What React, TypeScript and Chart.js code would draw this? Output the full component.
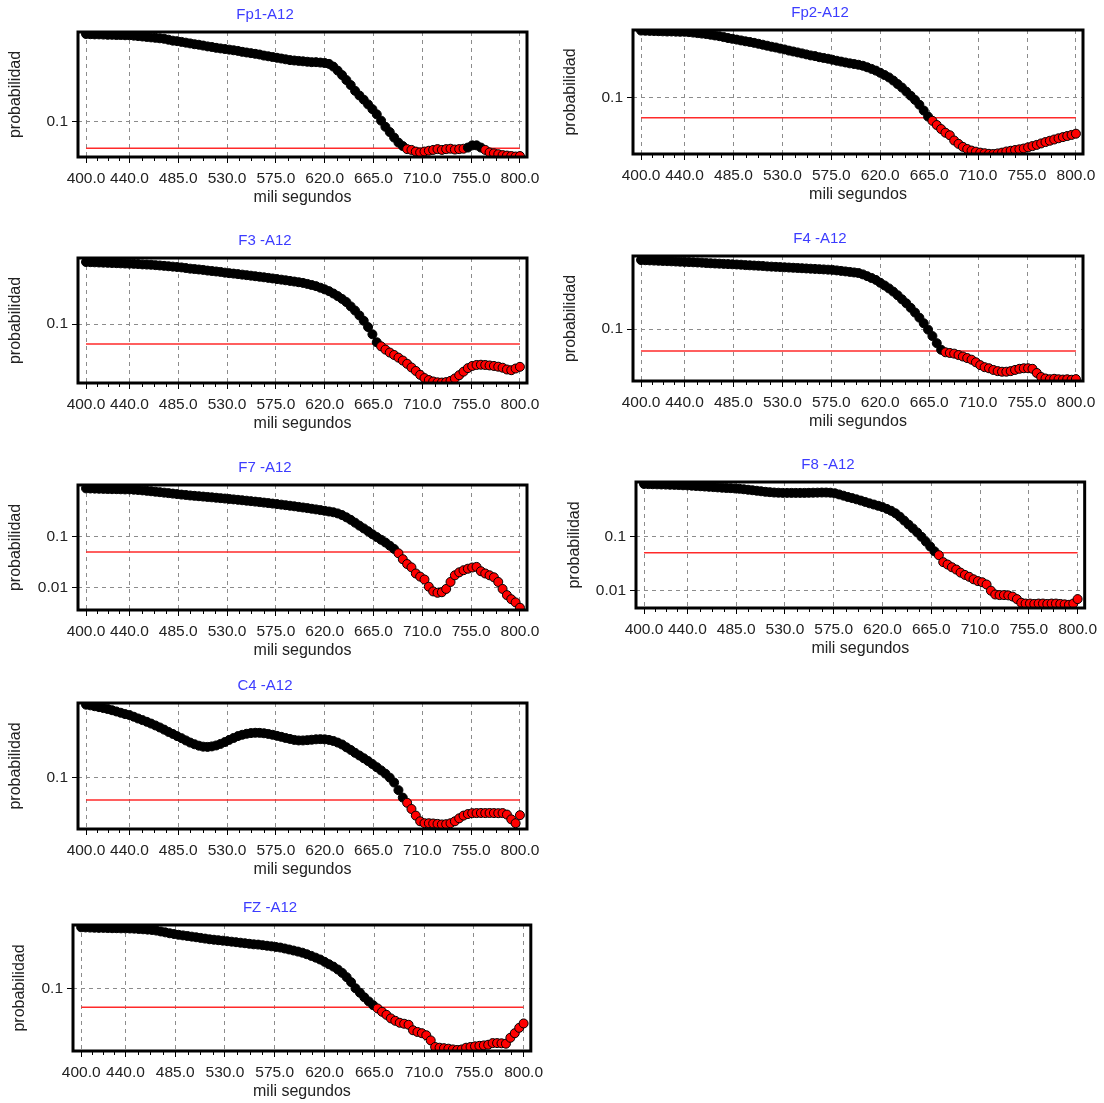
import React, { useEffect, useRef } from "react";
import { Chart, registerables } from "chart.js";

Chart.register(...registerables);

// Sample times (ms) shared by every channel
const TIME_MS = [
  400, 404, 408, 412, 416, 420, 424, 428, 432, 436,
  440, 444, 448, 452, 456, 460, 464, 468, 472, 476,
  480, 484, 488, 492, 496, 500, 504, 508, 512, 516,
  520, 524, 528, 532, 536, 540, 544, 548, 552, 556,
  560, 564, 568, 572, 576, 580, 584, 588, 592, 596,
  600, 604, 608, 612, 616, 620, 624, 628, 632, 636,
  640, 644, 648, 652, 656, 660, 664, 668, 672, 676,
  680, 684, 688, 692, 696, 700, 704, 708, 712, 716,
  720, 724, 728, 732, 736, 740, 744, 748, 752, 756,
  760, 764, 768, 772, 776, 780, 784, 788, 792, 796,
  800,
];

// Probability per channel at each sample time
const FP1 = [
  0.95, 0.945, 0.94, 0.94, 0.935, 0.93, 0.93, 0.925, 0.925, 0.92,
  0.92, 0.91, 0.9, 0.89, 0.88, 0.87, 0.86, 0.85, 0.84, 0.82,
  0.8, 0.79, 0.775, 0.76, 0.745, 0.73, 0.72, 0.705, 0.69, 0.68,
  0.665, 0.655, 0.645, 0.635, 0.625, 0.615, 0.6, 0.59, 0.58, 0.57,
  0.56, 0.545, 0.535, 0.525, 0.515, 0.505, 0.495, 0.485, 0.48, 0.475,
  0.47, 0.465, 0.46, 0.46, 0.455, 0.45, 0.44, 0.41, 0.37, 0.33,
  0.29, 0.255, 0.22, 0.195, 0.175, 0.155, 0.137, 0.12, 0.102, 0.087,
  0.076, 0.066, 0.058, 0.053, 0.049, 0.048, 0.046, 0.045, 0.046, 0.047,
  0.048, 0.049, 0.048, 0.049, 0.0495, 0.0485, 0.049, 0.0495, 0.051, 0.054,
  0.054, 0.051, 0.048, 0.045, 0.044, 0.043, 0.042, 0.0415, 0.041, 0.0405,
  0.041,
];

const FP2 = [
  0.98, 0.975, 0.97, 0.965, 0.96, 0.955, 0.95, 0.95, 0.945, 0.94,
  0.94, 0.93, 0.915, 0.9, 0.885, 0.87, 0.85, 0.83, 0.81, 0.785,
  0.76, 0.74, 0.72, 0.7, 0.68, 0.665, 0.645, 0.625, 0.605, 0.585,
  0.565, 0.55, 0.53, 0.515, 0.495, 0.48, 0.465, 0.45, 0.435, 0.42,
  0.41, 0.395, 0.385, 0.375, 0.362, 0.35, 0.34, 0.33, 0.32, 0.313,
  0.305, 0.295, 0.28, 0.265, 0.25, 0.232, 0.215, 0.198, 0.178, 0.158,
  0.14, 0.122, 0.106, 0.092, 0.078, 0.064, 0.052, 0.045, 0.039, 0.034,
  0.03, 0.0275, 0.023, 0.0205, 0.0185, 0.0172, 0.0163, 0.0157, 0.0152, 0.0149,
  0.0146, 0.0145, 0.0148, 0.0152, 0.0158, 0.0162, 0.0166, 0.017, 0.0175, 0.0182,
  0.019, 0.0198, 0.0208, 0.0218, 0.0228, 0.0238, 0.0248, 0.0258, 0.0268, 0.0278,
  0.029,
];

const F3 = [
  0.87, 0.865, 0.86, 0.855, 0.85, 0.845, 0.84, 0.835, 0.83, 0.825,
  0.82, 0.815, 0.81, 0.8, 0.795, 0.79, 0.78, 0.77, 0.76, 0.75,
  0.74, 0.73, 0.72, 0.705, 0.69, 0.68, 0.67, 0.66, 0.645, 0.635,
  0.625, 0.615, 0.6, 0.59, 0.58, 0.57, 0.56, 0.55, 0.54, 0.53,
  0.52, 0.51, 0.5, 0.49, 0.48, 0.47, 0.46, 0.45, 0.44, 0.43,
  0.42, 0.405, 0.39, 0.375, 0.355, 0.335, 0.315, 0.29, 0.265, 0.24,
  0.215, 0.185, 0.16, 0.135, 0.112, 0.09, 0.07, 0.053, 0.046, 0.041,
  0.037, 0.034, 0.031, 0.028, 0.025, 0.022, 0.0195, 0.017, 0.0152, 0.0142,
  0.0135, 0.0131, 0.013, 0.0132, 0.0138, 0.015, 0.0168, 0.019, 0.0215, 0.0232,
  0.024, 0.0242, 0.024, 0.0236, 0.0232, 0.0226, 0.0218, 0.0205, 0.02, 0.0212,
  0.0225,
];

const F4 = [
  0.88, 0.875, 0.87, 0.865, 0.86, 0.855, 0.85, 0.845, 0.84, 0.835,
  0.83, 0.825, 0.82, 0.815, 0.81, 0.8, 0.795, 0.79, 0.785, 0.78,
  0.775, 0.77, 0.765, 0.76, 0.75, 0.745, 0.74, 0.735, 0.73, 0.72,
  0.715, 0.71, 0.705, 0.7, 0.695, 0.69, 0.685, 0.68, 0.675, 0.67,
  0.665, 0.66, 0.655, 0.65, 0.645, 0.635, 0.625, 0.615, 0.605, 0.595,
  0.585, 0.56, 0.53, 0.5, 0.47, 0.43, 0.395, 0.36, 0.325, 0.29,
  0.255, 0.225, 0.195, 0.168, 0.143, 0.12, 0.098, 0.08, 0.064, 0.052,
  0.048, 0.047, 0.046, 0.044, 0.042, 0.04, 0.038, 0.035, 0.032, 0.03,
  0.029, 0.0275, 0.0265, 0.026, 0.026, 0.0265, 0.0275, 0.0285, 0.029, 0.029,
  0.0285, 0.025, 0.022, 0.021, 0.0205, 0.0208, 0.0205, 0.0203, 0.0205, 0.0202,
  0.0206,
];

const F7 = [
  0.86, 0.855, 0.85, 0.845, 0.84, 0.835, 0.83, 0.83, 0.825, 0.82,
  0.82, 0.81, 0.8, 0.785, 0.77, 0.755, 0.74, 0.725, 0.71, 0.695,
  0.68, 0.665, 0.65, 0.64, 0.625, 0.615, 0.605, 0.595, 0.585, 0.575,
  0.565, 0.555, 0.545, 0.535, 0.525, 0.515, 0.505, 0.495, 0.485, 0.475,
  0.465, 0.455, 0.445, 0.435, 0.425, 0.415, 0.405, 0.395, 0.385, 0.375,
  0.365, 0.355, 0.345, 0.335, 0.325, 0.315, 0.305, 0.295, 0.28, 0.26,
  0.235, 0.21, 0.185, 0.162, 0.143, 0.126, 0.11, 0.097, 0.086, 0.076,
  0.066, 0.057, 0.047, 0.036, 0.029, 0.025, 0.019, 0.0165, 0.0145, 0.0105,
  0.0085, 0.008, 0.0082, 0.0095, 0.013, 0.0175, 0.02, 0.022, 0.0235, 0.0248,
  0.0255, 0.021, 0.019, 0.0175, 0.016, 0.013, 0.0095, 0.0072, 0.006, 0.0052,
  0.0041,
];

const F8 = [
  0.92, 0.915, 0.91, 0.905, 0.9, 0.895, 0.89, 0.885, 0.88, 0.87,
  0.865, 0.855, 0.845, 0.835, 0.825, 0.815, 0.805, 0.795, 0.785, 0.775,
  0.77, 0.76, 0.75, 0.735, 0.72, 0.705, 0.69, 0.675, 0.66, 0.65,
  0.64, 0.635, 0.63, 0.63, 0.63, 0.63, 0.63, 0.63, 0.632, 0.635,
  0.637, 0.64, 0.64, 0.635, 0.62, 0.59, 0.56, 0.53, 0.505, 0.48,
  0.455, 0.43, 0.405, 0.385, 0.365, 0.345, 0.32, 0.295, 0.265, 0.23,
  0.195, 0.165, 0.14, 0.118, 0.098, 0.08, 0.065, 0.053, 0.045, 0.0335,
  0.0303, 0.027, 0.0245, 0.0215, 0.0195, 0.018, 0.0162, 0.015, 0.0143, 0.013,
  0.01, 0.0085, 0.0083, 0.0083, 0.0082, 0.0078, 0.007, 0.006, 0.0058, 0.0058,
  0.0057, 0.0058, 0.0058, 0.0057, 0.0058, 0.0058, 0.0057, 0.0056, 0.0055, 0.0058,
  0.007,
];

const C4 = [
  0.95, 0.93, 0.905, 0.88, 0.855, 0.83, 0.8, 0.77, 0.74, 0.71,
  0.69, 0.655, 0.62, 0.59, 0.56, 0.53, 0.5, 0.47, 0.44, 0.41,
  0.385, 0.36, 0.338, 0.315, 0.295, 0.28, 0.268, 0.26, 0.258, 0.262,
  0.27, 0.283, 0.3, 0.32, 0.34, 0.36, 0.375, 0.387, 0.395, 0.399,
  0.398, 0.393, 0.385, 0.375, 0.363, 0.352, 0.34, 0.33, 0.32, 0.315,
  0.315, 0.318, 0.322, 0.326, 0.328, 0.326, 0.32, 0.31, 0.295, 0.278,
  0.255, 0.235, 0.215, 0.198, 0.182, 0.167, 0.152, 0.138, 0.125, 0.113,
  0.1, 0.086, 0.068, 0.054, 0.046, 0.038, 0.031, 0.026, 0.0245, 0.0245,
  0.0243, 0.024, 0.0236, 0.0238, 0.0245, 0.026, 0.0285, 0.031, 0.0325, 0.0334,
  0.0335, 0.0336, 0.0335, 0.0336, 0.0335, 0.0334, 0.0335, 0.032, 0.0276, 0.0245,
  0.0314,
];

const FZ = [
  0.92, 0.915, 0.91, 0.905, 0.9, 0.9, 0.895, 0.89, 0.89, 0.885,
  0.885, 0.88, 0.875, 0.865, 0.855, 0.845, 0.835, 0.815, 0.79, 0.765,
  0.74, 0.72, 0.7, 0.685, 0.67, 0.655, 0.64, 0.625, 0.61, 0.595,
  0.585, 0.575, 0.565, 0.555, 0.545, 0.535, 0.525, 0.515, 0.505, 0.495,
  0.49, 0.48, 0.47, 0.46, 0.45, 0.44, 0.425, 0.41, 0.395, 0.38,
  0.365, 0.345, 0.325, 0.305, 0.285, 0.262, 0.24, 0.22, 0.198, 0.175,
  0.15, 0.125, 0.1, 0.085, 0.072, 0.062, 0.054, 0.048, 0.0425, 0.038,
  0.0334, 0.0306, 0.0285, 0.0275, 0.0265, 0.0217, 0.0204, 0.0195, 0.0181, 0.015,
  0.0118, 0.0115, 0.0113, 0.0111, 0.0108, 0.0106, 0.0108, 0.0115, 0.0118, 0.0121,
  0.0123, 0.0125, 0.0128, 0.0136, 0.0136, 0.0135, 0.0133, 0.0165, 0.0195, 0.0237,
  0.0278,
];

const SERIES = [FP1, FP2, F3, F4, F7, F8, C4, FZ];
const TITLES = ["Fp1-A12", "Fp2-A12", "F3 -A12", "F4 -A12", "F7 -A12", "F8 -A12", "C4 -A12", "FZ -A12"];
const Y_MIN = [0.04, 0.0145, 0.0128, 0.0194, 0.0037, 0.0048, 0.0205, 0.0102];
const Y_MAX = 1;
const X_TICKS = [400, 440, 485, 530, 575, 620, 665, 710, 755, 800];
const THRESHOLD = 0.05;

// Plot-frame rectangles on the page (left, top, right, bottom) and title anchors
const FRAMES = [
  { l: 78, t: 32, r: 527, b: 157, titleX: 265, yTitleX: 16 },
  { l: 633, t: 30, r: 1083, b: 154, titleX: 820, yTitleX: 571 },
  { l: 78, t: 258, r: 527, b: 383, titleX: 265, yTitleX: 16 },
  { l: 633, t: 256, r: 1083, b: 381, titleX: 820, yTitleX: 571 },
  { l: 78, t: 485, r: 527, b: 610, titleX: 265, yTitleX: 16 },
  { l: 636, t: 482, r: 1086, b: 608, titleX: 828, yTitleX: 575 },
  { l: 78, t: 703, r: 527, b: 829, titleX: 265, yTitleX: 16 },
  { l: 73, t: 925, r: 532, b: 1051, titleX: 270, yTitleX: 20 },
];

const FONT = "'Liberation Sans', Arial, sans-serif";
const TEXT = "#222222";
const TITLE_BLUE = "#3c3cff";
const GRID = "#8c8c8c";
const TICK_SIZE = 15.5;
const LABEL_SIZE = 16;
const PAD_TOP = 30;
const X_AXIS_H = 52;
const PAD_BOTTOM = 3;

function Panel({ index }: { index: number }) {
  const ref = useRef<HTMLCanvasElement | null>(null);
  const f = FRAMES[index];
  const left = f.l < 300 ? 0 : 555;
  const width = f.l < 300 ? 550 : 549;
  const top = f.t - PAD_TOP;
  const height = f.b - f.t + PAD_TOP + X_AXIS_H + PAD_BOTTOM;

  useEffect(() => {
    const canvas = ref.current;
    if (!canvas) return;
    const values = SERIES[index];
    const yMin = Y_MIN[index];
    const tickHalf = (TICK_SIZE * 1.2) / 2;
    const labelHalf = (LABEL_SIZE * 1.2) / 2;

    const framePlugin = {
      id: "frame",
      afterDraw(chart: any) {
        const { ctx, chartArea } = chart;
        const xs = chart.scales.x;
        ctx.save();
        // minor tick marks between labelled ticks
        ctx.strokeStyle = "#000";
        ctx.lineWidth = 1;
        ctx.beginPath();
        for (let i = 0; i < X_TICKS.length - 1; i++) {
          const a = X_TICKS[i];
          const b = X_TICKS[i + 1];
          for (let k = 1; k <= 3; k++) {
            const px = Math.round(xs.getPixelForValue(a + ((b - a) * k) / 4)) + 0.5;
            ctx.moveTo(px, chartArea.bottom);
            ctx.lineTo(px, chartArea.bottom + 4);
          }
        }
        ctx.stroke();
        // heavy plot frame
        ctx.lineWidth = 3;
        ctx.strokeRect(
          chartArea.left,
          chartArea.top,
          chartArea.right - chartArea.left,
          chartArea.bottom - chartArea.top
        );
        // panel title
        ctx.fillStyle = TITLE_BLUE;
        ctx.font = `15px ${FONT}`;
        ctx.textAlign = "center";
        ctx.textBaseline = "middle";
        ctx.fillText(TITLES[index], f.titleX - left, PAD_TOP - 17);
        ctx.restore();
      },
    };

    const chart = new Chart(canvas, {
      type: "scatter",
      data: {
        datasets: [
          {
            data: TIME_MS.map((t, i) => ({ x: t, y: values[i] })),
            showLine: false,
            pointRadius: 4.5,
            pointHoverRadius: 4.5,
            pointBorderWidth: 1,
            pointBorderColor: "#000",
            pointBackgroundColor: (c: any) =>
              c.raw && c.raw.y < THRESHOLD ? "#ff0000" : "#000000",
            order: 0,
          },
          {
            data: [
              { x: X_TICKS[0], y: THRESHOLD },
              { x: X_TICKS[X_TICKS.length - 1], y: THRESHOLD },
            ],
            showLine: true,
            borderColor: "#ff2a2a",
            borderWidth: 1.5,
            pointRadius: 0,
            order: 1,
          },
        ],
      },
      options: {
        animation: false,
        responsive: false,
        events: [],
        devicePixelRatio: 1,
        layout: {
          padding: {
            left: 0,
            top: PAD_TOP,
            right: width - (f.r - left),
            bottom: PAD_BOTTOM,
          },
        },
        plugins: {
          legend: { display: false },
          tooltip: { enabled: false },
          title: { display: false },
        },
        scales: {
          x: {
            type: "linear",
            min: 392.6,
            max: 806.5,
            afterBuildTicks: (s: any) => {
              s.ticks = X_TICKS.map((v) => ({ value: v }));
            },
            afterFit: (s: any) => {
              s.height = X_AXIS_H;
            },
            ticks: {
              autoSkip: false,
              maxRotation: 0,
              minRotation: 0,
              padding: 22 - 6 - tickHalf,
              color: TEXT,
              font: { family: FONT, size: TICK_SIZE },
              callback: (v: any) => Number(v).toFixed(1),
            },
            grid: {
              color: GRID,
              lineWidth: 1,
              drawTicks: true,
              tickLength: 6,
              tickColor: "#000",
              tickWidth: 1,
              tickBorderDash: [],
            },
            border: { display: false, dash: [4, 4] },
            title: {
              display: true,
              text: "mili segundos",
              color: TEXT,
              font: { family: FONT, size: LABEL_SIZE },
              padding: { top: 0, bottom: X_AXIS_H - 41 - labelHalf },
            },
          },
          y: {
            type: "logarithmic",
            min: yMin,
            max: Y_MAX,
            afterBuildTicks: (s: any) => {
              const decades = [0.1, 0.01, 0.001].filter((v) => v > yMin && v < Y_MAX);
              s.ticks = decades.map((v) => ({ value: v }));
            },
            afterFit: (s: any) => {
              s.width = f.l - left;
            },
            ticks: {
              padding: 4,
              color: TEXT,
              font: { family: FONT, size: TICK_SIZE },
              callback: (v: any) => String(Number(v)),
            },
            grid: {
              color: GRID,
              lineWidth: 1,
              drawTicks: true,
              tickLength: 6,
              tickColor: "#000",
              tickWidth: 1,
              tickBorderDash: [],
            },
            border: { display: false, dash: [4, 4] },
            title: {
              display: true,
              text: "probabilidad",
              color: TEXT,
              font: { family: FONT, size: LABEL_SIZE },
              padding: { top: f.yTitleX - left - labelHalf, bottom: 0 },
            },
          },
        },
      },
      plugins: [framePlugin],
    } as any);

    return () => chart.destroy();
  }, [index]);

  return (
    <canvas
      ref={ref}
      width={width}
      height={height}
      style={{ position: "absolute", left, top, width, height }}
    />
  );
}

export default function App() {
  return (
    <div
      style={{
        position: "absolute",
        left: 0,
        top: 0,
        width: 1104,
        height: 1103,
        overflow: "hidden",
        background: "#ffffff",
      }}
    >
      {SERIES.map((_, i) => (
        <Panel key={TITLES[i]} index={i} />
      ))}
    </div>
  );
}
